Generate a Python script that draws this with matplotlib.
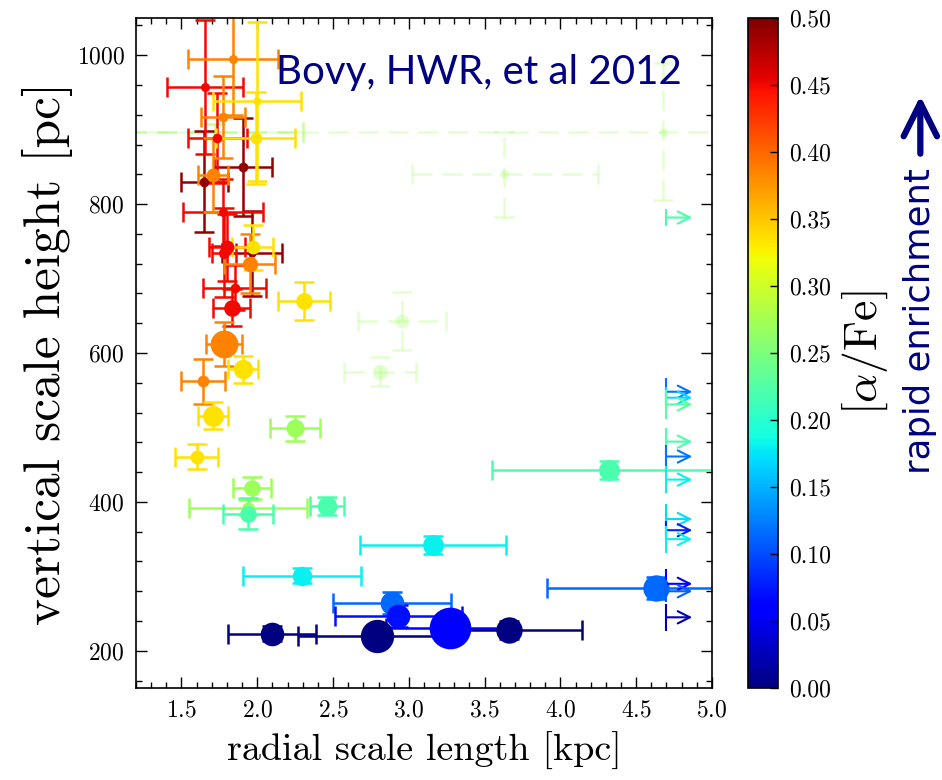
import numpy as np
import matplotlib
matplotlib.use("Agg")
import matplotlib.pyplot as plt
from matplotlib.colors import Normalize
from matplotlib.cm import ScalarMappable
from matplotlib.ticker import MultipleLocator

# ---- mono-abundance population fits: radial scale length vs vertical scale height ----
hR = [1.905, 1.65, 1.966,
      1.655, 1.735, 1.775, 1.80, 1.85, 1.83, 1.78,
      1.84, 1.775, 1.71, 1.95, 1.78, 1.64,
      2.00, 1.99, 1.97, 2.31, 1.905, 1.71, 1.60,
      2.25, 1.965, 1.94,
      1.94, 2.46, 4.32,
      3.16, 2.295,
      4.63, 2.89,
      2.93, 3.27,
      2.10, 2.79, 3.66]
hz = [850, 830, 734,
      957, 889, 789, 742, 688, 661, 735,
      995, 917, 839, 720, 612, 562,
      938, 889, 742, 670, 578, 516, 461,
      499, 419, 392,
      384, 394, 443,
      342, 301,
      284, 264,
      247, 231,
      223, 220, 228]
hR_err = [0.19, 0.155, 0.20,
          0.25, 0.195, 0.265, 0.12, 0.21, 0.125, 0.08,
          0.30, 0.145, 0.10, 0.17, 0.12, 0.145,
          0.29, 0.26, 0.135, 0.17, 0.10, 0.10, 0.14,
          0.165, 0.125, 0.39,
          0.165, 0.115, 0.77,
          0.48, 0.39,
          0.72, 0.39,
          0.42, 0.42,
          0.29, 0.52, 0.48]
hz_err = [66, 68, 57,
          90, 60, 45, 45, 30, 25, 60,
          75, 55, 50, 40, 30, 30,
          107, 62, 30, 25, 18, 18, 17,
          17, 15, 10,
          21, 12, 12,
          12, 10,
          15, 15,
          15, 20,
          10, 15, 12]
afe = [0.49, 0.49, 0.49,
       0.45, 0.45, 0.45, 0.45, 0.45, 0.45, 0.45,
       0.385, 0.385, 0.385, 0.385, 0.385, 0.385,
       0.335, 0.335, 0.335, 0.335, 0.335, 0.335, 0.335,
       0.27, 0.27, 0.27,
       0.22, 0.22, 0.22,
       0.18, 0.18,
       0.115, 0.115,
       0.07, 0.06,
       0.0, 0.0, 0.0]
# marker size grows with the number of stars in each bin
nstar_size = [7, 7, 6,
              6.5, 7, 6.5, 10, 7, 12, 8,
              6.5, 7, 10, 11, 20, 8.5,
              6, 8.5, 10, 12, 14, 15, 10,
              13, 12, 9,
              12, 14, 15,
              15, 14,
              19, 17,
              17, 30,
              17, 24, 19]

# poorly constrained bins (drawn faint, dashed)
weak_hR = [4.68, 1.72, 3.63, 2.955, 2.81]
weak_hz = [897, 897, 840, 643, 575]
weak_hR_err_lo = [3.60, 0.58, 0.61, 0.29, 0.24]
weak_hR_err_hi = [0.40, 0.58, 0.62, 0.29, 0.24]
weak_hz_err = [92, 10, 57, 39, 19]
weak_afe = [0.27, 0.27, 0.27, 0.27, 0.27]
weak_size = [6, 4, 6.5, 10, 11]
weak_alpha = [0.28, 0.6, 0.28, 0.28, 0.28]

# bins with only a lower limit on the radial scale length
limit_hR = 4.70
limit_hz = [782, 548, 540, 531, 481, 461, 430, 377, 362, 350, 290, 280, 245]
limit_hz_err = [12, 18, 15, 20, 18, 15, 18, 20, 12, 18, 20, 15, 18]
limit_afe = [0.22, 0.12, 0.17, 0.23, 0.22, 0.12, 0.18, 0.17, 0.08, 0.18, 0.06, 0.11, 0.02]

cbar_ticks = [0.00, 0.05, 0.10, 0.15, 0.20, 0.25, 0.30, 0.35, 0.40, 0.45, 0.50]

plt.rcParams['mathtext.fontset'] = 'cm'
plt.rcParams['axes.formatter.use_mathtext'] = True
serif = ['cmr10', 'DejaVu Serif']
navy = '#000080'

cmap = plt.get_cmap('jet')
norm = Normalize(vmin=0.0, vmax=0.5)

fig = plt.figure(figsize=(9.42, 7.80), dpi=100)
ax = fig.add_axes([0.1444, 0.1179, 0.6114, 0.8590])

lw = 1.8
# faint dashed bins first
for x, y, xl, xh, ye, a, s, al in zip(weak_hR, weak_hz, weak_hR_err_lo, weak_hR_err_hi,
                                       weak_hz_err, weak_afe, weak_size, weak_alpha):
    c = cmap(norm(a))
    eb = ax.errorbar(x, y, xerr=[[xl], [xh]], yerr=ye, fmt='o', color=c, ms=s,
                     mec='none', ecolor=c, elinewidth=lw, capsize=7.5, capthick=lw,
                     alpha=al, zorder=1)
    for coll in eb[2]:
        coll.set_linestyle((0, (8, 4)))

for x, y, xe, ye, a, s in zip(hR, hz, hR_err, hz_err, afe, nstar_size):
    c = cmap(norm(a))
    ax.errorbar(x, y, xerr=xe, yerr=ye, fmt='o', color=c, ms=s, mec='none',
                ecolor=c, elinewidth=lw, capsize=7.5, capthick=lw, zorder=2)

for y, ye, a in zip(limit_hz, limit_hz_err, limit_afe):
    c = cmap(norm(a))
    ax.errorbar(limit_hR, y, yerr=ye, fmt='none', ecolor=c, elinewidth=1.5,
                capsize=0, zorder=3)
    ax.annotate('', xy=(limit_hR + 0.17, y), xytext=(limit_hR, y),
                arrowprops=dict(arrowstyle='->', color=c, lw=1.5,
                                mutation_scale=22, shrinkA=0, shrinkB=0),
                zorder=3)

ax.set_xlim(1.2, 5.0)
ax.set_ylim(150, 1050)
ax.xaxis.set_major_locator(MultipleLocator(0.5))
ax.xaxis.set_minor_locator(MultipleLocator(0.1))
ax.yaxis.set_major_locator(MultipleLocator(200))
ax.yaxis.set_minor_locator(MultipleLocator(40))
ax.tick_params(which='both', direction='in', top=True, right=True, width=1.0)
ax.tick_params(which='major', length=8, labelsize=17, pad=8)
ax.tick_params(which='minor', length=4)
for lab in ax.get_xticklabels() + ax.get_yticklabels():
    lab.set_fontfamily(serif)
for sp in ax.spines.values():
    sp.set_linewidth(1.2)

ax.set_xlabel('radial scale length [kpc]', fontsize=27.5, family=serif, labelpad=8)
ax.set_ylabel('vertical scale height [pc]', fontsize=37, family=serif, labelpad=3)

ax.text(0.243, 0.918, 'Bovy, HWR, et al 2012', transform=ax.transAxes,
        fontsize=29, family=['Lato', 'DejaVu Sans'], color=navy,
        ha='left', va='center', zorder=5)

# colour bar for [alpha/Fe]
cax = fig.add_axes([0.794, 0.1179, 0.032, 0.8590])
sm = ScalarMappable(norm=norm, cmap=cmap)
cb = fig.colorbar(sm, cax=cax, ticks=cbar_ticks)
cb.ax.set_yticklabels(['%.2f' % t for t in cbar_ticks])
cb.ax.tick_params(direction='in', length=6, width=1.0, labelsize=17, pad=8)
for lab in cb.ax.get_yticklabels():
    lab.set_fontfamily(serif)
cb.outline.set_linewidth(1.2)
cb.set_label(r'$[\alpha/\mathrm{Fe}]$', fontsize=33, labelpad=6)

fig.text(0.977, 0.588, 'rapid enrichment', rotation=90, fontsize=25.5,
         family=['Liberation Sans Narrow', 'DejaVu Sans'], color=navy,
         ha='center', va='center')
ax.annotate('', xy=(0.977, 0.877), xytext=(0.977, 0.803), xycoords='figure fraction',
            textcoords='figure fraction',
            arrowprops=dict(arrowstyle='->', color=navy, lw=4.5,
                            mutation_scale=60, shrinkA=0, shrinkB=0))

fig.savefig('out.png', dpi=100)
